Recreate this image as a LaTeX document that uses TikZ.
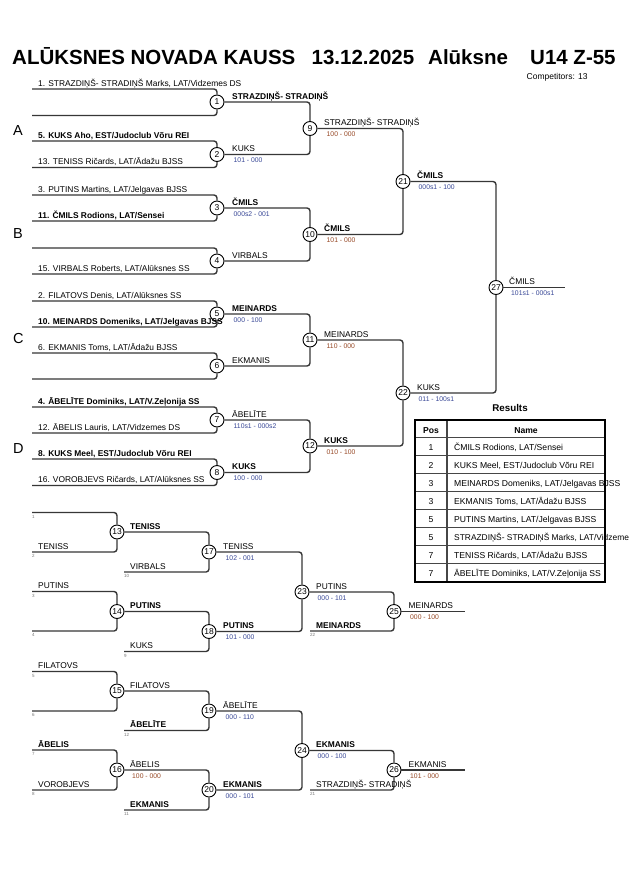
\documentclass[tikz,border=0pt]{standalone}
\usepackage{fontspec}
\setmainfont{Liberation Sans}
\definecolor{linec}{RGB}{55,55,55}
\definecolor{scblue}{RGB}{55,70,150}
\definecolor{scbrown}{RGB}{150,70,35}
\definecolor{tinyc}{RGB}{120,120,120}
\definecolor{tbline}{RGB}{70,70,70}
\begin{document}
\begin{tikzpicture}[x=1pt,y=-1pt,
  br/.style={draw=linec,line width=1.4pt,rounded corners=3pt},
  mc/.style={circle,draw=black,fill=white,line width=0.9pt,inner sep=0pt,minimum size=14pt,font=\fontsize{8.5}{9}\selectfont},
  ent/.style={anchor=base west,inner sep=0pt,font=\fontsize{8.4}{9}\selectfont},
  entb/.style={anchor=base west,inner sep=0pt,font=\fontsize{8.4}{9}\selectfont\bfseries},
  scb/.style={anchor=base west,inner sep=0pt,font=\fontsize{6.8}{7}\selectfont,text=scblue},
  scr/.style={anchor=base west,inner sep=0pt,font=\fontsize{6.8}{7}\selectfont,text=scbrown},
  tnum/.style={anchor=base west,inner sep=0pt,font=\fontsize{4.5}{5}\selectfont,text=tinyc},
  grp/.style={anchor=base west,inner sep=0pt,font=\fontsize{14.5}{15}\selectfont},
  ttl/.style={anchor=base west,inner sep=0pt,font=\fontsize{20.5}{21}\selectfont\bfseries},
  tbc/.style={anchor=base,inner sep=0pt,font=\fontsize{8.6}{9}\selectfont},
  tbl/.style={anchor=base west,inner sep=0pt,font=\fontsize{8.6}{9}\selectfont},
  tbh/.style={anchor=base,inner sep=0pt,font=\fontsize{8.6}{9}\selectfont\bfseries},
  tbouter/.style={draw=black,line width=2pt},
  tbinner/.style={draw=tbline,line width=1.1pt}
]
\useasboundingbox (0,0) rectangle (630,891);
\fill[white] (0,0) rectangle (630,891);

% ---------- title ----------
\node[ttl] (t1) at (12,65) {ALŪKSNES NOVADA KAUSS};
\node[ttl] (t2) at (311.5,65) {13.12.2025};
\node[ttl] (t3) at (428,65) {Alūksne};
\node[ttl] (t4) at (530,65) {U14 Z-55};
\node[anchor=base west,inner sep=0pt,font=\fontsize{8.5}{9}\selectfont] (comp) at (526.5,79) {Competitors: 13};

% ---------- group letters ----------
\node[grp] (ga) at (13,135) {A};
\node[grp] (gb) at (13,238) {B};
\node[grp] (gc) at (13,343) {C};
\node[grp] (gd) at (13,453) {D};

% ---------- main bracket circles ----------
\node[mc] (m1) at (217,102) {1};
\node[mc] (m2) at (217,154.5) {2};
\node[mc] (m3) at (217,208) {3};
\node[mc] (m4) at (217,261) {4};
\node[mc] (m5) at (217,314) {5};
\node[mc] (m6) at (217,366) {6};
\node[mc] (m7) at (217,420) {7};
\node[mc] (m8) at (217,472.5) {8};
\node[mc] (m9) at (310,128.5) {9};
\node[mc] (m10) at (310,234.5) {10};
\node[mc] (m11) at (310,340) {11};
\node[mc] (m12) at (310,446) {12};
\node[mc] (m21) at (403,181.5) {21};
\node[mc] (m22) at (403,393) {22};
\node[mc] (m27) at (496,287.5) {27};

\coordinate (e1a) at (32,89);   \coordinate (e1b) at (32,115.5);
\coordinate (e2a) at (32,141);  \coordinate (e2b) at (32,167.5);
\coordinate (e3a) at (32,195);  \coordinate (e3b) at (32,221);
\coordinate (e4a) at (32,248);  \coordinate (e4b) at (32,274);
\coordinate (e5a) at (32,301);  \coordinate (e5b) at (32,327);
\coordinate (e6a) at (32,353);  \coordinate (e6b) at (32,379);
\coordinate (e7a) at (32,407);  \coordinate (e7b) at (32,433);
\coordinate (e8a) at (32,459);  \coordinate (e8b) at (32,485.5);
\coordinate (fin) at (565,287.5);

\draw[br] (e1a) -| (m1.north); \draw[br] (e1b) -| (m1.south);
\draw[br] (e2a) -| (m2.north); \draw[br] (e2b) -| (m2.south);
\draw[br] (e3a) -| (m3.north); \draw[br] (e3b) -| (m3.south);
\draw[br] (e4a) -| (m4.north); \draw[br] (e4b) -| (m4.south);
\draw[br] (e5a) -| (m5.north); \draw[br] (e5b) -| (m5.south);
\draw[br] (e6a) -| (m6.north); \draw[br] (e6b) -| (m6.south);
\draw[br] (e7a) -| (m7.north); \draw[br] (e7b) -| (m7.south);
\draw[br] (e8a) -| (m8.north); \draw[br] (e8b) -| (m8.south);
\draw[br] (m1.east) -| (m9.north);  \draw[br] (m2.east) -| (m9.south);
\draw[br] (m3.east) -| (m10.north); \draw[br] (m4.east) -| (m10.south);
\draw[br] (m5.east) -| (m11.north); \draw[br] (m6.east) -| (m11.south);
\draw[br] (m7.east) -| (m12.north); \draw[br] (m8.east) -| (m12.south);
\draw[br] (m9.east) -| (m21.north);  \draw[br] (m10.east) -| (m21.south);
\draw[br] (m11.east) -| (m22.north); \draw[br] (m12.east) -| (m22.south);
\draw[br] (m21.east) -| (m27.north); \draw[br] (m22.east) -| (m27.south);
\draw[br] (m27.east) -- (fin);

% entrants
\node[ent]  (n1a) at (38,86) {1. STRAZDIŅŠ- STRADIŅŠ Marks, LAT/Vidzemes DS};
\node[entb] (n2a) at (38,138) {5. KUKS Aho, EST/Judoclub Võru REI};
\node[ent]  (n2b) at (38,164.5) {13. TENISS Ričards, LAT/Ādažu BJSS};
\node[ent]  (n3a) at (38,192) {3. PUTINS Martins, LAT/Jelgavas BJSS};
\node[entb] (n3b) at (38,218) {11. ČMILS Rodions, LAT/Sensei};
\node[ent]  (n4b) at (38,271) {15. VIRBALS Roberts, LAT/Alūksnes SS};
\node[ent]  (n5a) at (38,298) {2. FILATOVS Denis, LAT/Alūksnes SS};
\node[entb] (n5b) at (38,324) {10. MEINARDS Domeniks, LAT/Jelgavas BJSS};
\node[ent]  (n6a) at (38,350) {6. EKMANIS Toms, LAT/Ādažu BJSS};
\node[entb] (n7a) at (38,404) {4. ĀBELĪTE Dominiks, LAT/V.Zeļonija SS};
\node[ent]  (n7b) at (38,430) {12. ĀBELIS Lauris, LAT/Vidzemes DS};
\node[entb] (n8a) at (38,456) {8. KUKS Meel, EST/Judoclub Võru REI};
\node[ent]  (n8b) at (38,482.5) {16. VOROBJEVS Ričards, LAT/Alūksnes SS};

% round 2 labels
\node[entb] (w1) at (232,99.5) {STRAZDIŅŠ- STRADIŅŠ};
\node[ent]  (w2) at (232,151.5) {KUKS};   \node[scb] (s2) at (233.5,162.5) {101 - 000};
\node[entb] (w3) at (232,205) {ČMILS};    \node[scb] (s3) at (233.5,216) {000s2 - 001};
\node[ent]  (w4) at (232,258) {VIRBALS};
\node[entb] (w5) at (232,311) {MEINARDS}; \node[scb] (s5) at (233.5,322) {000 - 100};
\node[ent]  (w6) at (232,363) {EKMANIS};
\node[ent]  (w7) at (232,417) {ĀBELĪTE};  \node[scb] (s7) at (233.5,428) {110s1 - 000s2};
\node[entb] (w8) at (232,469.5) {KUKS};   \node[scb] (s8) at (233.5,480.5) {100 - 000};
% round 3 labels
\node[ent]  (w9) at (324,125.5) {STRAZDIŅŠ- STRADIŅŠ}; \node[scr] (s9) at (326.5,136.5) {100 - 000};
\node[entb] (w10) at (324,231.5) {ČMILS};   \node[scr] (s10) at (326.5,242.5) {101 - 000};
\node[ent]  (w11) at (324,337) {MEINARDS};  \node[scr] (s11) at (326.5,348) {110 - 000};
\node[entb] (w12) at (324,443) {KUKS};      \node[scr] (s12) at (326.5,454) {010 - 100};
% semi-final labels
\node[entb] (w21) at (417,178.5) {ČMILS};   \node[scb] (s21) at (418.5,189.5) {000s1 - 100};
\node[ent]  (w22) at (417,390) {KUKS};      \node[scb] (s22) at (418.5,401) {011 - 100s1};
% final label
\node[ent]  (w27) at (509,284.5) {ČMILS};   \node[scb] (s27) at (511,295.5) {101s1 - 000s1};

% ---------- results table ----------
\node[anchor=base,inner sep=0pt,font=\fontsize{9.8}{10}\selectfont\bfseries] (res) at (510,411) {Results};
\coordinate (tbtl) at (415,420);
\coordinate (tbbr) at (605,581.5);
\foreach \yy in {437.5,455.5,473.5,491.5,509.5,527.5,545.5,563.5}
  \draw[tbinner] (415,\yy) -- (605,\yy);
\draw[tbinner] (447,420) -- (447,581.5);
\draw[tbouter] (tbtl) rectangle (tbbr);
\node[tbh] (hpos) at (431,433) {Pos};
\node[tbh] (hname) at (526,433) {Name};
\node[tbc] (p1) at (431,450.5) {1}; \node[tbl] (r1) at (454,450.5) {ČMILS Rodions, LAT/Sensei};
\node[tbc] (p2) at (431,468.5) {2}; \node[tbl] (r2) at (454,468.5) {KUKS Meel, EST/Judoclub Võru REI};
\node[tbc] (p3) at (431,486.5) {3}; \node[tbl] (r3) at (454,486.5) {MEINARDS Domeniks, LAT/Jelgavas BJSS};
\node[tbc] (p4) at (431,504.5) {3}; \node[tbl] (r4) at (454,504.5) {EKMANIS Toms, LAT/Ādažu BJSS};
\node[tbc] (p5) at (431,522.5) {5}; \node[tbl] (r5) at (454,522.5) {PUTINS Martins, LAT/Jelgavas BJSS};
\node[tbc] (p6) at (431,540.5) {5}; \node[tbl,font=\fontsize{8.4}{9}\selectfont] (r6) at (454,540.5) {STRAZDIŅŠ- STRADIŅŠ Marks, LAT/Vidzeme};
\node[tbc] (p7) at (431,558.5) {7}; \node[tbl] (r7) at (454,558.5) {TENISS Ričards, LAT/Ādažu BJSS};
\node[tbc] (p8) at (431,576.5) {7}; \node[tbl] (r8) at (454,576.5) {ĀBELĪTE Dominiks, LAT/V.Zeļonija SS};

% ---------- repechage ----------
\node[mc] (r13) at (117,532) {13};
\node[mc] (r14) at (117,611.5) {14};
\node[mc] (r15) at (117,691) {15};
\node[mc] (r16) at (117,770) {16};
\node[mc] (r17) at (209,552) {17};
\node[mc] (r18) at (209,631.5) {18};
\node[mc] (r19) at (209,711) {19};
\node[mc] (r20) at (209,790) {20};
\node[mc] (r23) at (302,592) {23};
\node[mc] (r24) at (302,750.5) {24};
\node[mc] (r25) at (394,611.5) {25};
\node[mc] (r26) at (394,770) {26};

\coordinate (q1) at (32,512.5); \coordinate (q2) at (32,552);
\coordinate (q3) at (32,591.5); \coordinate (q4) at (32,631);
\coordinate (q5) at (32,671.5); \coordinate (q6) at (32,711);
\coordinate (q7) at (32,750);   \coordinate (q8) at (32,790);
\coordinate (q10) at (124,572); \coordinate (q9) at (124,651.5);
\coordinate (q12) at (124,730.5); \coordinate (q11) at (124,810);
\coordinate (q22) at (310,631); \coordinate (q21) at (310,790);
\coordinate (f25) at (465,611.5); \coordinate (f26) at (465,770);

\draw[br] (q1) -| (r13.north); \draw[br] (q2) -| (r13.south);
\draw[br] (q3) -| (r14.north); \draw[br] (q4) -| (r14.south);
\draw[br] (q5) -| (r15.north); \draw[br] (q6) -| (r15.south);
\draw[br] (q7) -| (r16.north); \draw[br] (q8) -| (r16.south);
\draw[br] (r13.east) -| (r17.north); \draw[br] (q10) -| (r17.south);
\draw[br] (r14.east) -| (r18.north); \draw[br] (q9) -| (r18.south);
\draw[br] (r15.east) -| (r19.north); \draw[br] (q12) -| (r19.south);
\draw[br] (r16.east) -| (r20.north); \draw[br] (q11) -| (r20.south);
\draw[br] (r17.east) -| (r23.north); \draw[br] (r18.east) -| (r23.south);
\draw[br] (r19.east) -| (r24.north); \draw[br] (r20.east) -| (r24.south);
\draw[br] (r23.east) -| (r25.north); \draw[br] (q22) -| (r25.south);
\draw[br] (r24.east) -| (r26.north); \draw[br] (q21) -| (r26.south);
\draw[br] (r25.east) -- (f25);
\draw[br] (r26.east) -- (f26);

% repechage entrant labels
\node[ent]  (k2l) at (38,549) {TENISS};
\node[ent]  (k3l) at (38,588.5) {PUTINS};
\node[ent]  (k5l) at (38,668.5) {FILATOVS};
\node[entb] (k7l) at (38,747) {ĀBELIS};
\node[ent]  (k8l) at (38,787) {VOROBJEVS};
% tiny numbers
\node[tnum] (k1) at (32,518) {1};
\node[tnum] (k2) at (32,557.5) {2};
\node[tnum] (k3) at (32,597) {3};
\node[tnum] (k4) at (32,636.5) {4};
\node[tnum] (k5) at (32,677) {5};
\node[tnum] (k6) at (32,716.5) {6};
\node[tnum] (k7) at (32,755.5) {7};
\node[tnum] (k8) at (32,795.5) {8};
\node[tnum] (k10) at (124,577.5) {10};
\node[tnum] (k9) at (124,657) {9};
\node[tnum] (k12) at (124,736) {12};
\node[tnum] (k11) at (124,815.5) {11};
\node[tnum] (k22) at (310,636.5) {22};
\node[tnum] (k21) at (310,795.5) {21};

% repechage round labels
\node[entb] (v13) at (130,529) {TENISS};
\node[ent]  (v10) at (130,569) {VIRBALS};
\node[entb] (v14) at (130,608.5) {PUTINS};
\node[ent]  (v9) at (130,648.5) {KUKS};
\node[ent]  (v15) at (130,688) {FILATOVS};
\node[entb] (v12) at (130,727.5) {ĀBELĪTE};
\node[ent]  (v16) at (130,767) {ĀBELIS}; \node[scr] (x16) at (132,778) {100 - 000};
\node[entb] (v11) at (130,807) {EKMANIS};

\node[ent]  (v17) at (223,549) {TENISS};   \node[scb] (x17) at (225.5,560) {102 - 001};
\node[entb] (v18) at (223,628.5) {PUTINS}; \node[scb] (x18) at (225.5,639.5) {101 - 000};
\node[ent]  (v19) at (223,708) {ĀBELĪTE};  \node[scb] (x19) at (225.5,719) {000 - 110};
\node[entb] (v20) at (223,787) {EKMANIS};  \node[scb] (x20) at (225.5,798) {000 - 101};

\node[ent]  (v23) at (316,589) {PUTINS};   \node[scb] (x23) at (317.5,600) {000 - 101};
\node[entb] (v22) at (316,628) {MEINARDS};
\node[entb] (v24) at (316,747.5) {EKMANIS}; \node[scb] (x24) at (317.5,758.5) {000 - 100};
\node[ent]  (v21) at (316,787) {STRAZDIŅŠ- STRADIŅŠ};

\node[ent]  (v25) at (408.5,608.5) {MEINARDS}; \node[scr] (x25) at (410,619.5) {000 - 100};
\node[ent]  (v26) at (408.5,767) {EKMANIS};    \node[scr] (x26) at (410,778) {101 - 000};
\end{tikzpicture}
\end{document}
